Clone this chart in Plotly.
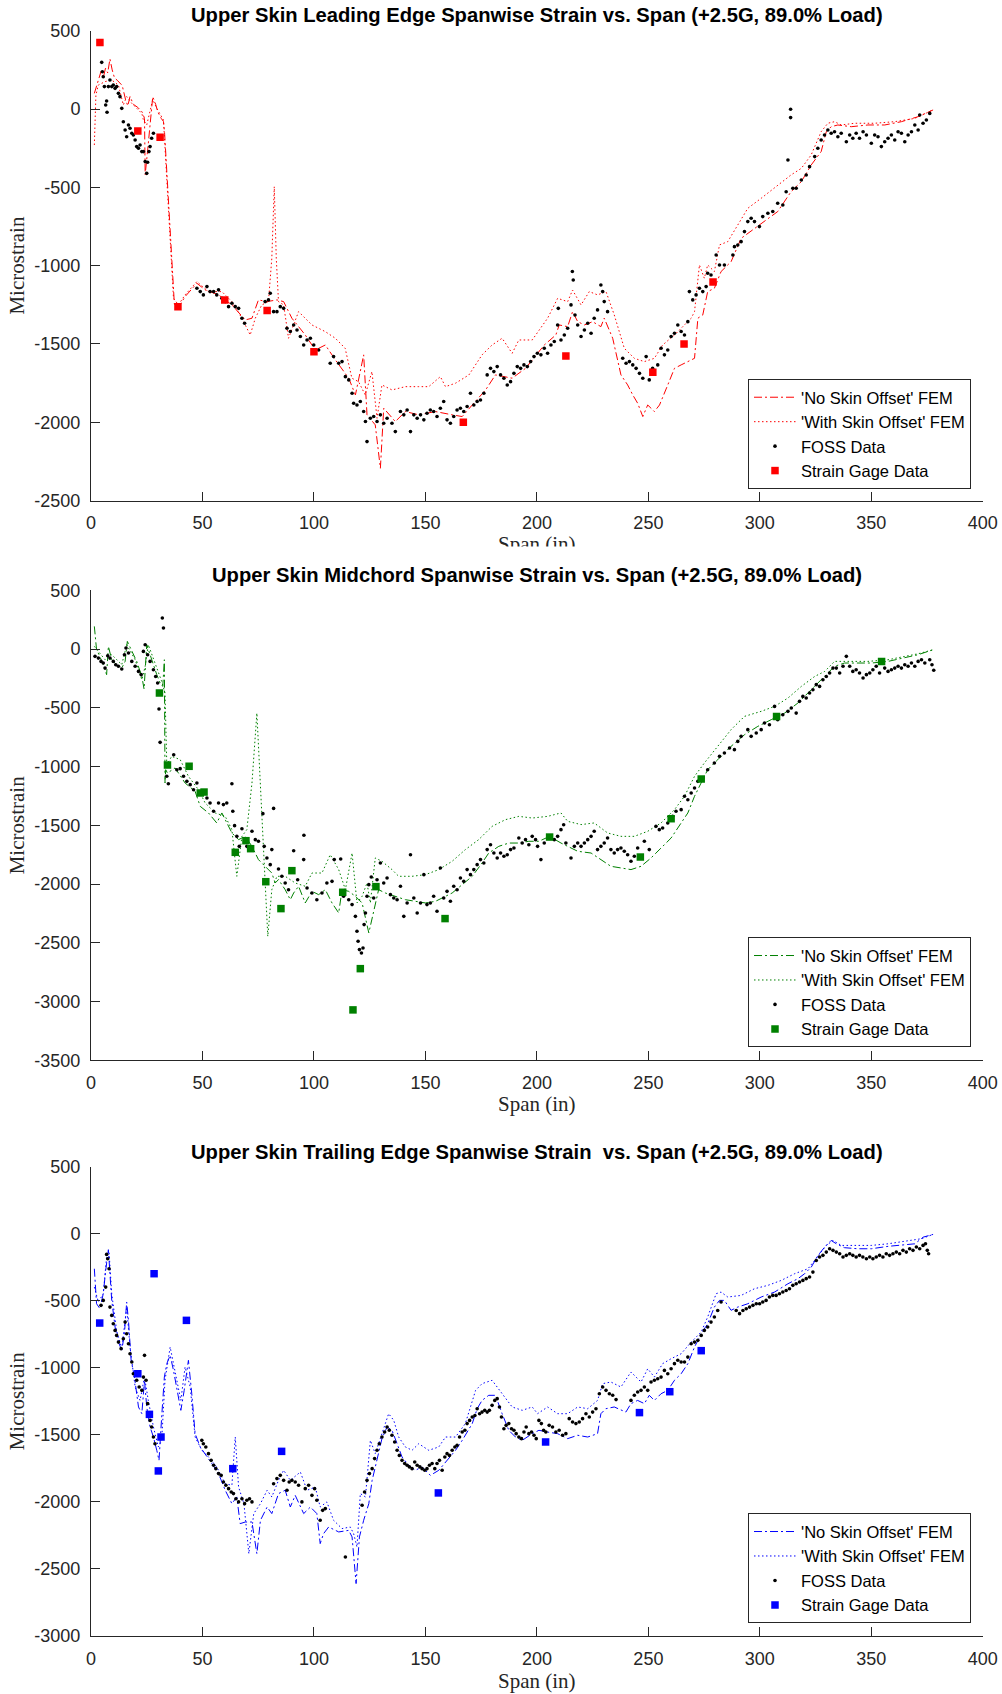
import plotly.graph_objects as go

# ---------------- shared tick labels ----------------
x_ticks = [0, 50, 100, 150, 200, 250, 300, 350, 400]
x_ticktext = ["0", "50", "100", "150", "200", "250", "300", "350", "400"]
le_yticks = [500, 0, -500, -1000, -1500, -2000, -2500]
mc_yticks = [500, 0, -500, -1000, -1500, -2000, -2500, -3000, -3500]
te_yticks = [500, 0, -500, -1000, -1500, -2000, -2500, -3000]

titles = ["Upper Skin Leading Edge Spanwise Strain vs. Span (+2.5G, 89.0% Load)",
          "Upper Skin Midchord Spanwise Strain vs. Span (+2.5G, 89.0% Load)",
          "Upper Skin Trailing Edge Spanwise Strain  vs. Span (+2.5G, 89.0% Load)"]
series_names = ["'No Skin Offset' FEM", "'With Skin Offset' FEM", "FOSS Data", "Strain Gage Data"]

# ---------------- Panel 1 : Leading edge ----------------
le_gage_x = [4, 21, 31, 39, 60, 79, 100, 167, 213, 252, 266, 279]
le_gage_y = [425, -140, -180, -1262, -1220, -1287, -1550, -2000, -1577, -1681, -1500, -1104]

le_noff = [(1.5, 100), (3, 170), (4.5, 240), (5.5, 200), (6.5, 260), (7.5, 230), (8.5, 320), (9.5, 250),
           (10.5, 200), (12, 180), (14, 150), (15.5, 60), (16.5, 20), (17.5, 80), (19, 30), (21, 10),
           (23, -20), (24, -60), (24.3, -420), (25.5, -250), (26.5, -100), (27.7, 79), (29, 30), (30, -20),
           (31.5, -60), (32.5, -80), (33, -150), (37.1, -1187), (37.4, -1247), (39, -1272), (42.2, -1198),
           (47.5, -1113), (51.2, -1155), (57.2, -1187), (63.2, -1251), (69.2, -1347), (72.2, -1336),
           (75.1, -1219), (78.9, -1230), (83.4, -1219), (86.4, -1230), (90.1, -1336), (96.1, -1443),
           (100.6, -1539), (105.1, -1507), (109.6, -1602), (115.6, -1719), (118.6, -1826), (122.3, -1570),
           (123.8, -1953), (127.5, -2017), (129.8, -2294), (131.3, -1911), (136.5, -1996), (141, -1932),
           (147, -1953), (154.5, -1932), (162, -1953), (166.5, -1964), (171, -1890), (177, -1794),
           (181.4, -1698), (188.9, -1719), (194.9, -1656), (203.3, -1507), (208.5, -1443), (210, -1379),
           (213.8, -1390), (216, -1294), (218.3, -1358), (221.3, -1379), (225, -1358), (228.7, -1390),
           (230.2, -1336), (234, -1464), (237.7, -1698), (240.7, -1762), (243, -1826), (245.2, -1879),
           (247.5, -1964), (249.7, -1890), (252.7, -1932), (255, -1890), (258.7, -1762), (261.7, -1656),
           (264.7, -1634), (267.7, -1613), (270.7, -1592), (272.2, -1336), (274.4, -1315), (276.6, -1166),
           (279.6, -1145), (282.6, -1038), (287.1, -975), (291.6, -826), (297.6, -762), (303.6, -698),
           (308, -655), (314, -528), (318.6, -464), (323, -358), (327.5, -272), (329.8, -145), (332, -113),
           (335, -102), (341, -113), (348.5, -102), (356, -102), (363.5, -81), (371, -49), (377.7, -6)]

le_woff = [(1.5, -230), (2.2, 89), (3.3, 153), (6.3, 175), (9.3, 185), (12.3, 153), (14.5, 26), (16, 79),
           (18.3, 36), (20.5, 4), (22.8, -28), (23.5, -70), (25, -102), (27.7, 60), (29.5, 4), (32.5, -70),
           (37, -1209), (39.2, -1251), (42.2, -1187), (47.5, -1102), (52.7, -1166), (58.7, -1166),
           (63.2, -1230), (67.7, -1336), (71.4, -1443), (73.7, -1336), (76.6, -1251), (79.6, -1230),
           (81.1, -953), (82.2, -496), (83.1, -953), (84.1, -1230), (86.4, -1251), (88.6, -1464),
           (93.1, -1294), (99.1, -1379), (105, -1421), (109.6, -1464), (114, -1528), (117, -1719),
           (120, -1741), (123, -1826), (126, -1677), (128.3, -1975), (130.5, -1762), (135, -1794),
           (141, -1773), (147, -1773), (151.5, -1773), (156.7, -1709), (159, -1773), (163.5, -1751),
           (169.5, -1698), (175.4, -1570), (179.9, -1507), (184.4, -1464), (188.9, -1560), (191.9, -1475),
           (197.9, -1475), (204.8, -1336), (209.3, -1209), (213.8, -1230), (216, -1156), (219.8, -1251),
           (223.5, -1166), (227.2, -1187), (231, -1166), (234.7, -1315), (239.2, -1528), (243.7, -1592),
           (248.2, -1613), (252.7, -1592), (256.4, -1507), (261.7, -1443), (266.2, -1379), (269.2, -1336),
           (270.7, -1294), (272.9, -996), (275.1, -1081), (276.6, -996), (279.6, -1038), (281.9, -868),
           (285.6, -847), (290.1, -741), (294.6, -634), (300.6, -570), (308, -485), (314, -421),
           (318.6, -379), (323, -294), (327.5, -145), (330.5, -91), (333.5, -81), (336.5, -102),
           (342.5, -91), (351.5, -91), (360.5, -81), (369.5, -60), (377.7, -6)]

le_foss = [(4.8, 298), (5.1, 238), (5.5, 206), (6, 143), (6.6, 26), (7, 51), (7.2, -21), (7.8, 143), (8.5, 185),
           (9.3, 143), (10, 153), (10.8, 132), (11.5, 143), (12.3, 100), (13, 79), (13.8, 4), (14.5, -81),
           (15.3, -134), (16, -177), (16.8, -102), (17.5, -123), (18.3, -155), (19, -166), (19.8, -198),
           (20.5, -240), (21.3, -251), (22, -230), (22.8, -272), (23.5, -272), (24.3, -336), (25, -411),
           (25.4, -340), (26, -272), (26.5, -240), (27.2, -187), (28, -155),
           (47.5, -1145), (49, -1166), (50.4, -1187), (52, -1134), (53.4, -1166), (55, -1166), (56.4, -1187),
           (57.2, -1155), (58.7, -1209), (60.2, -1230), (61.7, -1262), (63.2, -1240), (64.7, -1262),
           (66.2, -1273), (67.7, -1336), (68.9, -1368),
           (78.1, -1230), (79.6, -1219), (80.4, -1177), (81.9, -1294), (83.4, -1294), (84.9, -1262),
           (86.4, -1273), (87.9, -1400), (89.4, -1421), (90.9, -1379), (92.4, -1411), (93.9, -1453),
           (95.4, -1507), (96.9, -1475), (98.4, -1464), (99.9, -1507), (102.1, -1539), (107.3, -1624),
           (108.8, -1581), (111.1, -1624), (112.6, -1613), (114.1, -1709), (115.6, -1730), (117.1, -1815),
           (117.8, -1879), (119.3, -1890), (120.8, -1868), (122.3, -1932), (123.1, -1996), (123.8, -2124),
           (125.3, -1975), (126.8, -1964), (128.3, -1996), (129.8, -1953), (131.3, -2007), (132.8, -1975),
           (135, -2007), (136.5, -2060), (138.8, -1932), (140.3, -1953), (141.8, -1922), (143.3, -2060),
           (144.8, -1953), (146.3, -1975), (147.8, -1953), (149.3, -1985), (150.7, -1943), (152.2, -1922),
           (153.7, -1932), (155.2, -1964), (156.7, -1911), (158.2, -1868), (159.7, -1985), (161.2, -2007),
           (162.7, -1964), (164.2, -1922), (165.7, -1911), (167.2, -1932), (168.7, -1900), (170.2, -1815),
           (171.7, -1890), (173.2, -1868), (174.7, -1858), (176.2, -1815), (177.7, -1698), (179.2, -1656),
           (180.7, -1677), (182.2, -1645), (183.7, -1698), (185.2, -1719), (186.7, -1762), (188.2, -1741),
           (189.7, -1688), (191.2, -1645), (192.7, -1656), (194.2, -1634), (195.7, -1645), (197.2, -1613),
           (198.7, -1581), (200.2, -1560), (201.8, -1570), (203.3, -1528), (204.8, -1560), (206.3, -1507),
           (207.8, -1485), (209.3, -1379), (209.6, -1273), (210.8, -1475), (212.3, -1443), (213.8, -1400),
           (215.3, -1251), (215.9, -1038), (216.3, -1092), (217.1, -1315), (218.3, -1379), (219.8, -1453),
           (221.3, -1411), (222.8, -1368), (224.3, -1432), (225.7, -1336), (227.2, -1283), (228.7, -1124),
           (229.5, -1166), (230.2, -1230), (231.7, -1294), (238.5, -1592), (240, -1624), (241.5, -1613),
           (243, -1634), (244.5, -1656), (246, -1688), (247.5, -1719), (249, -1581), (250.4, -1730),
           (251.9, -1656), (254.2, -1634), (255.7, -1528), (257.2, -1570), (258.7, -1539), (260.2, -1453),
           (261.7, -1432), (263.2, -1379), (264.7, -1421), (266.2, -1443), (267.7, -1358), (268.4, -1166),
           (269.9, -1219), (271.4, -1187), (272.9, -1145), (274.4, -1166), (275.9, -1134), (276.6, -1049),
           (278.1, -1060), (280.4, -932), (281.9, -996), (284.1, -996), (287.9, -932), (288.6, -879),
           (290.1, -868), (291.6, -847), (293.1, -783), (294.6, -719), (296.1, -698), (297.6, -719),
           (299.8, -751), (301.3, -687), (303.6, -666), (305.8, -655), (308, -602), (310.3, -613),
           (311.8, -528), (312.6, -326), (313.8, -55), (313.8, -2), (314.8, -506), (316.3, -506),
           (318.6, -453), (320.8, -421), (322.3, -368), (324.6, -304), (326, -251), (327.5, -198),
           (329, -166), (330.5, -134), (332, -155), (333.5, -145), (335, -177), (336.5, -155), (338.8, -209),
           (340.3, -166), (341.7, -187), (343.2, -155), (344.7, -187), (346.3, -145), (347.8, -166),
           (350, -219), (351.5, -166), (353, -177), (354.5, -240), (356, -209), (357.5, -187), (359, -166),
           (360.5, -198), (362, -145), (363.5, -155), (365, -209), (366.5, -166), (368, -145), (369.5, -102),
           (371, -134), (371.7, -38), (373.2, -91), (374.7, -70), (376.2, -28)]

# ---------------- Panel 2 : Midchord ----------------
mc_gage_x = [30.7, 34.3, 44, 49, 50.7, 64.7, 69.5, 71.6, 78.4, 85.2, 90.1, 112.9, 117.5, 120.8, 127.8, 158.8,
             205.7, 246.4, 260.2, 273.7, 307.5, 354.6]
mc_gage_y = [-374, -987, -998, -1225, -1217, -1730, -1631, -1699, -1980, -2209, -1886, -2070, -3071, -2720,
             -2022, -2294, -1600, -1770, -1444, -1106, -573, -105]

mc_noff = [(1.5, 193), (2.5, -6), (3.6, -48), (5.5, -133), (7, -218), (7.8, 23), (9.3, -91), (11.5, -133),
           (13.8, -162), (15.3, -105), (16.3, 65), (18.3, -20), (20.5, -105), (22.8, -233), (23.8, -340),
           (25, 37), (27.2, -91), (29.5, -218), (31, -289), (32.2, -318), (32.9, -91), (33.2, -1140),
           (33.5, -1027), (34.3, -1055), (37.7, -1012), (42.2, -1140), (46.7, -1211), (49, -1339),
           (52.7, -1395), (56.4, -1480), (58.7, -1395), (63.2, -1565), (66.2, -1622), (69.2, -1594),
           (72.2, -1679), (75.1, -1792), (78.1, -1849), (81.1, -1906), (82.6, -1991), (84.1, -1962),
           (87.1, -2048), (89.4, -2133), (90.9, -2076), (93.1, -2019), (96.1, -2161), (99.1, -2062),
           (102.1, -2090), (105.1, -2048), (108.1, -2161), (111.1, -2246), (112.6, -2048), (115.6, -2062),
           (118.6, -2104), (121.6, -2161), (124.6, -2416), (127.5, -2161), (129, -2048), (132, -2076),
           (136.5, -2104), (141, -2133), (145.5, -2147), (150, -2161), (154.5, -2147), (157.5, -2119),
           (162, -2076), (166.5, -2005), (171, -1934), (175.4, -1821), (178.4, -1736), (182.9, -1679),
           (187.4, -1651), (191.9, -1651), (196.4, -1636), (200.9, -1636), (205.7, -1594), (210.8, -1651),
           (218.3, -1721), (224.3, -1736), (228.7, -1792), (233.2, -1849), (237.7, -1863), (242.2, -1877),
           (246.7, -1849), (251.2, -1778), (255.7, -1693), (260.2, -1608), (264.7, -1480), (267.7, -1395),
           (270.7, -1253), (273.7, -1140), (276.6, -1027), (281.1, -942), (287.1, -828), (293.1, -729),
           (299.1, -658), (305.1, -601), (311.1, -545), (317.1, -459), (323.1, -346), (329.1, -233),
           (333.5, -147), (338, -119), (344, -119), (350, -119), (357.5, -105), (363.5, -77), (371, -48),
           (377.7, -6)]

mc_woff = [(1.5, 23), (3.3, -20), (6.3, -91), (9.3, -48), (13.8, -133), (16, 37), (19.8, -91), (22.8, -261),
           (24.3, -147), (25.7, 37), (28.7, -119), (31.7, -275), (33.2, -374), (34, -984), (36.2, -913),
           (40, -941), (43.7, -1083), (48.2, -1197), (51.2, -1310), (55.7, -1395), (60.2, -1424),
           (63.2, -1537), (65.4, -1934), (67.7, -1594), (69.9, -1537), (72.2, -1140), (74.4, -545),
           (76, -1140), (78.1, -1991), (79.3, -2445), (81.1, -2048), (83.4, -1934), (87.1, -1934),
           (91.6, -1991), (96.1, -2019), (99.1, -1906), (103.6, -1906), (107.3, -1750), (111.1, -1877),
           (114.1, -2048), (117.1, -1736), (119.3, -2161), (121.6, -2104), (123.8, -1991), (125.3, -2161),
           (127.5, -1778), (130.5, -1806), (135, -1877), (138, -1934), (144, -1934), (150, -1920),
           (156, -1877), (162, -1806), (167.9, -1707), (173.9, -1622), (179.9, -1509), (185.9, -1452),
           (191.9, -1424), (197.9, -1438), (204.8, -1424), (210.8, -1395), (213.8, -1466), (219.8, -1494),
           (225.7, -1480), (231.7, -1565), (237.7, -1594), (243.7, -1594), (249.7, -1551), (255.7, -1480),
           (261.7, -1367), (266.2, -1253), (270.7, -1083), (275.1, -970), (281.1, -828), (287.1, -686),
           (293.1, -573), (300.6, -530), (306.6, -488), (312.6, -417), (318.6, -318), (324.6, -233),
           (329.1, -190), (333.5, -105), (339.5, -105), (348.5, -105), (357.5, -91), (363.5, -68),
           (371, -40), (377.7, -6)]

mc_foss = [(1.8, -62), (3.3, -77), (4.5, -105), (5.5, -119), (6.3, -162), (7.5, -57), (8.5, -77), (10, -105),
           (11.1, -133), (12.3, -147), (13.8, -170), (15, -48), (15.7, 9), (16.8, -34), (18.3, -105),
           (19.8, -147), (21.3, -190), (22.5, -218), (23.5, -20), (24.3, 37), (25.4, -48), (26.5, -105),
           (28, -176), (29, -233), (29.9, -289), (30.5, -510), (31, -794), (32, 264), (32.5, 179),
           (34, -1083), (34.7, -1146), (37.1, -899), (38.5, -1027), (40, -1018), (41.5, -1083), (43, -1126),
           (44.5, -1154), (46, -1197), (47.5, -1140), (49, -1225), (50.4, -1211), (52, -1268), (53.4, -1310),
           (55, -1381), (57.2, -1310), (59.4, -1324), (60.9, -1310), (63.2, -1146), (63.6, -1381),
           (64.4, -1503), (65.4, -1594), (66.5, -1679), (67.7, -1529), (69.9, -1679), (72.2, -1551),
           (73.7, -1622), (75.1, -1636), (77.1, -1401), (77.7, -1679), (78.9, -1778), (80.4, -1835),
           (81.1, -1707), (81.9, -1356), (84.1, -1872), (85.6, -1934), (87.1, -1991), (88.6, -2048),
           (90.9, -1716), (92.7, -1963), (95.4, -1792), (95.5, -1585), (96.9, -2033), (99.1, -2076),
           (101.3, -2133), (103.6, -2076), (105.8, -1991), (108.1, -1977), (109.1, -1792), (112, -1787),
           (113.3, -2104), (115.6, -2133), (117.1, -2175), (118.6, -2275), (119.3, -2402), (119.8, -2487),
           (120.4, -2558), (121.3, -2587), (122, -2544), (122.5, -2345), (123.1, -2246), (123.8, -2104),
           (124.6, -2005), (125.7, -1940), (126.8, -2119), (128.3, -1963), (129.8, -1821), (131.3, -1991),
           (132.8, -1948), (134.3, -2090), (135.8, -2119), (137.3, -2133), (138.8, -2019), (140.3, -2275),
           (141.8, -2161), (143.3, -1750), (144.8, -2119), (146.3, -2246), (147.8, -2161), (149.3, -1920),
           (150.7, -2175), (152.2, -2161), (153.7, -2104), (155.2, -2232), (156.7, -1863), (158.2, -2119),
           (159.7, -2062), (161.2, -2147), (162.7, -2019), (164.2, -2048), (165.7, -1948), (167.2, -1977),
           (168.7, -1877), (170.2, -1920), (171.7, -1877), (173.2, -1835), (174.7, -1792), (176.2, -1821),
           (177.7, -1707), (179.2, -1665), (180.7, -1736), (182.2, -1778), (183.7, -1736), (185.2, -1764),
           (186.7, -1750), (188.2, -1707), (189.7, -1693), (191.9, -1608), (193.4, -1651), (194.9, -1622),
           (196.4, -1665), (197.9, -1594), (199.4, -1622), (200.3, -1679), (201.8, -1792), (203.3, -1651),
           (207.8, -1622), (209.3, -1594), (210.8, -1537), (212, -1495), (213, -1651), (215.3, -1778),
           (216.8, -1679), (218.3, -1651), (219.8, -1679), (221.3, -1651), (222.8, -1622), (224.3, -1594),
           (225.7, -1551), (227.2, -1707), (228.7, -1679), (230.2, -1651), (231.7, -1608), (233.2, -1707),
           (234.7, -1736), (236.2, -1707), (237.7, -1693), (239.2, -1721), (240.7, -1750), (242.2, -1806),
           (243.7, -1764), (245.2, -1693), (248.2, -1636), (250.4, -1707), (253.4, -1509), (254.9, -1537),
           (256.4, -1523), (258.7, -1480), (260.9, -1424), (262.4, -1381), (264.7, -1367), (266.2, -1253),
           (267.7, -1282), (269.2, -1225), (270.7, -1183), (272.2, -1126), (274.4, -1098), (276.6, -1027),
           (279.6, -970), (281.9, -913), (284.1, -885), (286.4, -842), (288.6, -856), (290.1, -786),
           (291.6, -743), (294.6, -686), (296.1, -743), (298.4, -715), (300.6, -686), (302.1, -630),
           (304.3, -644), (306.6, -488), (308, -601), (310.3, -559), (312.6, -530), (314.1, -502),
           (316.3, -545), (317.8, -445), (319.3, -403), (320.8, -417), (322.3, -374), (323.8, -346),
           (325.3, -303), (326.8, -318), (328.3, -261), (329.8, -233), (331.3, -204), (332.8, -162),
           (334.3, -162), (335.8, -204), (337.3, -147), (338.8, -62), (340.3, -147), (341.7, -190),
           (343.2, -176), (344.7, -204), (346.3, -247), (347.8, -218), (349.3, -204), (350.7, -176),
           (352.2, -147), (353.7, -204), (356, -162), (357.5, -190), (359, -176), (360.5, -162), (362, -147),
           (363.5, -162), (365, -133), (366.5, -147), (368, -119), (369.5, -147), (371, -105), (372.5, -91),
           (374, -119), (376.2, -91), (377.2, -133), (378, -181)]

# ---------------- Panel 3 : Trailing edge ----------------
te_gage_x = [3.9, 21, 26.2, 28.3, 30.2, 31.4, 42.8, 63.6, 85.5, 155.8, 203.9, 246, 259.6, 273.7]
te_gage_y = [-666, -1044, -1347, -298, -1769, -1516, -646, -1752, -1623, -1933, -1553, -1334, -1178, -872]

te_noff = [(1.5, -261), (2.5, -522), (4, -559), (5.5, -447), (6.6, -273), (7.8, -119), (8.5, -298), (9.3, -497),
           (10.8, -696), (12.3, -808), (13.8, -870), (15, -746), (16, -509), (16.8, -646), (18, -944),
           (19.5, -1069), (21.3, -1292), (22.8, -1342), (24, -1093), (25, -1292), (26.5, -1441), (28, -1516),
           (29.5, -1615), (30.5, -1690), (31.7, -1367), (32.9, -1069), (34, -969), (35.5, -907), (37, -1019),
           (38.5, -1143), (40.3, -1317), (41.8, -1168), (43.7, -944), (45.2, -1193), (46.7, -1491),
           (49, -1590), (51.2, -1640), (54.2, -1715), (57.2, -1789), (60.2, -1913), (63.2, -2013),
           (65.4, -1963), (66.9, -2162), (69.2, -2150), (72.2, -2150), (74.4, -2386), (76, -2137),
           (79, -2038), (81.1, -2087), (84.1, -1938), (87.1, -1913), (89.4, -2038), (91.6, -1951),
           (95.4, -2087), (98.4, -2038), (101.3, -2087), (102.8, -2311), (104.3, -2237), (106.6, -2187),
           (111.1, -2224), (115.6, -2212), (117.1, -2261), (118.9, -2609), (120.4, -2261), (122.3, -2137),
           (124.6, -2013), (126.1, -1839), (128.3, -1690), (130.5, -1528), (132.8, -1441), (135, -1466),
           (137.3, -1566), (139.5, -1665), (142.5, -1727), (145.5, -1764), (148.5, -1739), (152.2, -1802),
           (156, -1764), (159.7, -1690), (163.5, -1615), (166.5, -1541), (171, -1416), (173.2, -1305),
           (175.4, -1243), (178.4, -1205), (181.4, -1205), (184.4, -1342), (187.4, -1466), (190.4, -1516),
           (193.4, -1541), (197.9, -1491), (200.9, -1466), (204.8, -1479), (209.3, -1491), (213.8, -1528),
           (218.3, -1503), (222.8, -1516), (227.2, -1491), (228.7, -1342), (230.9, -1305), (234.7, -1292),
           (237.7, -1317), (239.9, -1330), (242.2, -1267), (245.2, -1243), (248.2, -1267), (250.4, -1205),
           (252.7, -1243), (255.7, -1193), (258.7, -1168), (261.7, -1093), (264.7, -1044), (267.7, -969),
           (270.7, -845), (273.7, -746), (276.6, -671), (279.6, -547), (281.9, -497), (284.1, -497),
           (287.1, -571), (290.1, -547), (294.6, -522), (300.6, -472), (306.6, -435), (312.6, -373),
           (317.1, -335), (320.1, -298), (323.1, -248), (326.1, -161), (329.1, -99), (332, -50),
           (334.3, -75), (338, -104), (344, -112), (350, -112), (357.5, -94), (363.5, -87), (369.5, -75),
           (373.3, -25), (377.7, -5)]

te_woff = [(1.5, -398), (3.3, -509), (5.5, -447), (7, -174), (8.1, -137), (9.3, -447), (11.5, -721), (13.8, -857),
           (16, -547), (17.5, -845), (19.8, -1143), (22, -1243), (24, -1069), (25.7, -1243), (28, -1441),
           (30.2, -1590), (31.7, -1541), (33.2, -1093), (35.5, -845), (37.7, -1019), (40.3, -1243),
           (42.2, -994), (44.5, -1143), (46.7, -1516), (49.7, -1615), (52.7, -1665), (56.4, -1739),
           (60.2, -1864), (63.2, -1876), (64.7, -1516), (66.2, -1889), (68.6, -2013), (70.8, -2386),
           (73, -2087), (76, -2013), (79, -1913), (81.1, -1963), (84.1, -1839), (86.4, -1764), (89.4, -1839),
           (93.9, -1777), (96.9, -1913), (100.6, -1889), (102.8, -2038), (105.8, -2000), (108.8, -2137),
           (112.6, -2199), (116.3, -2187), (117.8, -2237), (119.3, -2336), (120.8, -1938), (123.1, -1963),
           (125.3, -1541), (127.5, -1640), (130.5, -1491), (133.5, -1342), (135.8, -1392), (138, -1516),
           (141, -1590), (144, -1615), (147, -1566), (151.5, -1615), (156, -1590), (159, -1516),
           (163.5, -1516), (167.9, -1416), (172.5, -1168), (175.4, -1118), (179.9, -1093), (184.4, -1193),
           (188.9, -1292), (193.4, -1317), (197.9, -1292), (200.3, -1342), (204.8, -1292), (209.3, -1342),
           (213.8, -1342), (218.3, -1292), (222.8, -1305), (227.2, -1243), (229.5, -1118), (233.2, -1106),
           (237.7, -1143), (242.2, -1031), (246.7, -1106), (249.7, -1007), (252.7, -1069), (256.4, -969),
           (260.2, -932), (264.7, -895), (269.2, -808), (273.7, -733), (276.6, -621), (280.4, -447),
           (282.6, -435), (285.6, -472), (291.6, -460), (297.6, -410), (303.6, -385), (309.6, -348),
           (315.6, -298), (321.6, -261), (326.1, -161), (329.8, -87), (332.8, -50), (336.5, -87),
           (342.5, -87), (350, -87), (357.5, -75), (365, -57), (372.5, -37), (377.7, -5)]

te_foss = [(4.5, -534), (5.5, -497), (6.6, -398), (7, -154), (7.5, -186), (8.1, -261), (8.5, -547), (9.3, -609),
           (10, -671), (10.8, -721), (11.5, -758), (12.3, -808), (13.5, -857), (14.5, -783), (15.3, -659),
           (16, -746), (16.8, -820), (17.5, -895), (18.3, -957), (19, -1044), (20.5, -1093), (21.6, -1143),
           (22.8, -1168), (23.5, -1069), (24, -907), (24.7, -1093), (25.4, -1267), (26.5, -1392),
           (27.2, -1441), (28, -1516), (28.7, -1566),
           (49.7, -1541), (50.4, -1566), (51.5, -1590), (52.7, -1640), (53.9, -1690), (55, -1727),
           (56, -1752), (57.2, -1789), (58.4, -1802), (59.4, -1851), (60.5, -1876), (61.7, -1901),
           (62.9, -1926), (63.9, -1938), (65, -1976), (66.2, -2000), (67.7, -1976), (68.9, -2013),
           (69.9, -1988), (71.1, -1976), (72.2, -2000),
           (81.9, -1864), (83.4, -1826), (84.9, -1802), (86.4, -1839), (87.9, -1913), (88.9, -1851),
           (90.1, -1839), (91.6, -1851), (93.1, -1876), (94.6, -2000), (96.1, -1901), (97.6, -1876),
           (99.1, -1951), (100.3, -1901), (101.3, -1988), (102.8, -2137), (103.9, -2063), (105.1, -2050),
           (114.1, -2411),
           (121.6, -2025), (122.7, -1926), (123.8, -1839), (124.9, -1789), (126.1, -1752), (127.2, -1677),
           (128.3, -1615), (129.3, -1566), (130.5, -1516), (131.7, -1479), (132.8, -1441), (133.8, -1466),
           (135, -1503), (136.2, -1553), (137.3, -1615), (138.3, -1653), (139.5, -1690), (140.7, -1714),
           (141.8, -1727), (142.8, -1739), (144, -1752), (145.2, -1702), (146.3, -1727), (147.5, -1739),
           (148.5, -1752), (149.7, -1764), (150.7, -1752), (151.8, -1727), (153, -1714), (154.2, -1752),
           (155.2, -1714), (156.3, -1690), (157.5, -1764), (158.7, -1665), (159.7, -1640), (160.8, -1653),
           (162, -1615), (163.2, -1590), (164.2, -1578), (165.3, -1516), (166.5, -1479), (167.7, -1466),
           (168.7, -1416), (169.8, -1392), (171, -1367), (172.2, -1355), (173.2, -1305), (174.3, -1342),
           (175.4, -1330), (176.6, -1317), (177.7, -1330), (178.7, -1317), (179.9, -1280), (181.1, -1243),
           (182.2, -1230), (183.2, -1292), (184.1, -1367), (185.2, -1454), (186.2, -1429), (187.4, -1416),
           (188.6, -1454), (189.7, -1466), (190.7, -1491), (191.9, -1516), (193.1, -1528), (194.2, -1479),
           (195.2, -1441), (196.4, -1491), (197.6, -1479), (198.7, -1503), (199.7, -1528), (200.9, -1392),
           (202, -1416), (203, -1466), (204, -1479), (205.5, -1429), (207, -1441), (208.5, -1479),
           (210, -1466), (211.5, -1503), (213, -1491), (214.5, -1379), (216, -1404), (217.5, -1416),
           (219, -1404), (220.5, -1379), (222, -1342), (223.5, -1367), (225, -1330), (226.5, -1305),
           (228, -1193), (229.5, -1143), (231, -1168), (232.5, -1193), (234, -1205), (235.5, -1237),
           (242.2, -1243), (243.7, -1205), (245.2, -1180), (246.7, -1168), (248.2, -1143), (249.7, -1168),
           (251.2, -1106), (252.7, -1093), (254.2, -1081), (255.7, -1069), (257.2, -1019), (258.7, -1044),
           (260.2, -1007), (261.7, -969), (263.2, -944), (264.7, -957), (266.2, -957), (267.7, -920),
           (269.2, -820), (270.7, -808), (272.2, -795), (273.7, -758), (275.1, -721), (276.6, -696),
           (278.1, -659), (279.6, -621), (281.1, -572), (282.6, -509), (289.4, -572), (290.9, -596),
           (292.4, -572), (293.9, -559), (295.4, -547), (296.9, -534), (298.4, -522), (299.9, -522),
           (301.3, -509), (302.8, -497), (304.3, -472), (305.8, -460), (307.3, -460), (308.8, -447),
           (310.3, -435), (311.8, -423), (313.3, -410), (314.8, -385), (316.3, -373), (317.8, -360),
           (319.3, -348), (320.8, -335), (322.3, -323), (323.8, -286), (325.3, -199), (326.8, -174),
           (328.3, -161), (329.8, -137), (331.3, -112), (332.8, -124), (334.3, -137), (335.8, -149),
           (337.3, -174), (338.8, -161), (340.3, -149), (341.7, -161), (343.2, -174), (344.7, -161),
           (346.2, -174), (347.8, -186), (349.3, -174), (350.7, -186), (352.2, -174), (353.7, -161),
           (355.2, -174), (356.7, -149), (358.2, -161), (359.7, -149), (361.2, -137), (362.7, -149),
           (364.2, -124), (365.7, -137), (367.2, -112), (368.7, -124), (370.2, -99), (371.7, -112),
           (373.2, -87), (374.3, -75), (375.1, -124), (375.7, -149)]

# ---------------- figure ----------------
W, H = 1002, 1694
AX_L, AX_R = 91, 982.8
panel_px = [(30.7, 500.5), (590.3, 1060.3), (1166.7, 1636.0)]  # (top, bottom) in pixels
title_px = [15, 575, 1152]
xtitle_px = [544, 1104, 1681]
legend_bottom_px = [489, 1047.3, 1623.3]
colors = ["#FF0000", "#008000", "#0000FF"]

panels = [
    (le_noff, le_woff, le_foss, le_gage_x, le_gage_y, le_yticks, [-2500, 500]),
    (mc_noff, mc_woff, mc_foss, mc_gage_x, mc_gage_y, mc_yticks, [-3500, 500]),
    (te_noff, te_woff, te_foss, te_gage_x, te_gage_y, te_yticks, [-3000, 500]),
]

AXC = "#262626"
fig = go.Figure()
layout = dict(width=W, height=H, margin=dict(l=0, r=0, t=0, b=0, autoexpand=False),
              paper_bgcolor="white", plot_bgcolor="white", showlegend=True)
annotations = []

for i, (noff, woff, foss, gx, gy, yt, yr) in enumerate(panels):
    sfx = "" if i == 0 else str(i + 1)
    xa, ya = "x" + sfx, "y" + sfx
    lg = "legend" + sfx
    c = colors[i]
    fig.add_trace(go.Scatter(x=[p[0] for p in noff], y=[p[1] for p in noff], mode="lines",
                             line=dict(color=c, width=1, dash="8px,3px,2px,3px"),
                             name=series_names[0], xaxis=xa, yaxis=ya, legend=lg))
    fig.add_trace(go.Scatter(x=[p[0] for p in woff], y=[p[1] for p in woff], mode="lines",
                             line=dict(color=c, width=1, dash="1.5px,2.5px"),
                             name=series_names[1], xaxis=xa, yaxis=ya, legend=lg))
    fig.add_trace(go.Scatter(x=[p[0] for p in foss], y=[p[1] for p in foss], mode="markers",
                             marker=dict(color="black", size=3.6, line=dict(width=0)),
                             name=series_names[2], xaxis=xa, yaxis=ya, legend=lg))
    fig.add_trace(go.Scatter(x=gx, y=gy, mode="markers",
                             marker=dict(color=c, size=7.5, symbol="square", line=dict(width=0)),
                             name=series_names[3], xaxis=xa, yaxis=ya, legend=lg))

    top, bot = panel_px[i]
    layout["xaxis" + sfx] = dict(domain=[AX_L / W, AX_R / W], anchor=ya, range=[0, 400],
                                 tickvals=x_ticks, ticktext=x_ticktext, ticks="inside", ticklen=9,
                                 tickcolor=AXC, showline=True, linecolor=AXC, linewidth=1,
                                 showgrid=False, zeroline=False, ticklabelstandoff=6, automargin=False,
                                 tickfont=dict(family="Liberation Sans, Arial", size=18, color=AXC))
    layout["yaxis" + sfx] = dict(domain=[1 - bot / H, 1 - top / H], anchor=xa, range=yr,
                                 tickvals=yt, ticktext=[str(v) for v in yt], ticks="inside", ticklen=9,
                                 tickcolor=AXC, showline=True, linecolor=AXC, linewidth=1,
                                 showgrid=False, zeroline=False, ticklabelstandoff=6, automargin=False,
                                 tickfont=dict(family="Liberation Sans, Arial", size=18, color=AXC))
    layout[lg] = dict(x=971 / W, xanchor="right", y=1 - legend_bottom_px[i] / H, yanchor="bottom",
                      bgcolor="white", bordercolor=AXC, borderwidth=1, itemwidth=42,
                      font=dict(family="Liberation Sans, Arial", size=16.5, color="black"),
                      tracegroupgap=0)
    cx = (AX_L + AX_R) / 2 / W
    annotations.append(dict(text=titles[i], x=cx, y=1 - title_px[i] / H, xref="paper", yref="paper",
                            xanchor="center", yanchor="middle", showarrow=False,
                            font=dict(family="Liberation Sans, Arial", size=20.2, color="black", weight="bold")))
    annotations.append(dict(text="Span (in)", x=cx, y=1 - xtitle_px[i] / H, xref="paper", yref="paper",
                            xanchor="center", yanchor="middle", showarrow=False,
                            font=dict(family="Liberation Serif, Times New Roman", size=21, color=AXC)))
    annotations.append(dict(text="Microstrain", x=17 / W, y=1 - (top + bot) / 2 / H, xref="paper",
                            yref="paper", xanchor="center", yanchor="middle", showarrow=False,
                            textangle=-90,
                            font=dict(family="Liberation Serif, Times New Roman", size=21, color=AXC)))

# white band that clips the first panel's x-axis title, as in the original
annotations.append(dict(text=" ", x=(AX_L + AX_R) / 2 / W, y=1 - 555 / H, xref="paper", yref="paper",
                        xanchor="center", yanchor="middle", showarrow=False, width=240, height=16,
                        bgcolor="white", borderpad=0))
layout["annotations"] = annotations
fig.update_layout(**layout)
fig.write_html("out.html", config={"displayModeBar": False, "staticPlot": True},
               post_script="document.body.style.margin='0';document.body.style.overflow='hidden';")
